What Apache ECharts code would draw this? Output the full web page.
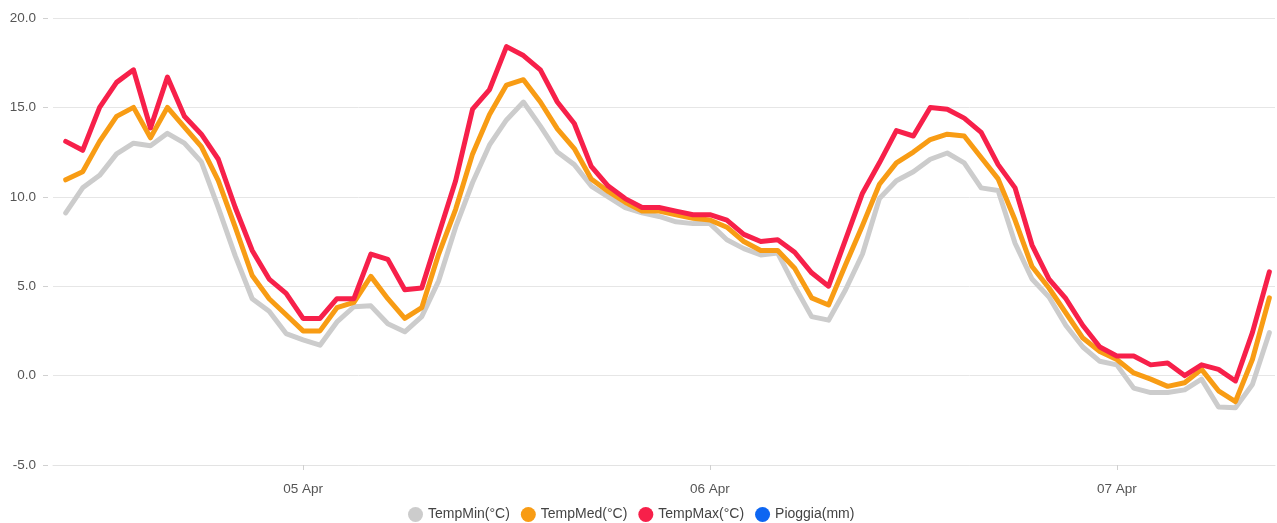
<!DOCTYPE html>
<html>
<head>
<meta charset="utf-8">
<script src="https://cdn.jsdelivr.net/npm/echarts@6/dist/echarts.min.js"></script>
<style>
html,body{margin:0;padding:0;background:#fff;}
#chart{width:1277px;height:523px;}
</style>
</head>
<body>
<div id="chart"></div>
<script>
// Hourly readings starting 04 Apr 10:00
const startTime = [2025, 3, 4, 10, 0];
const seriesNames = ['TempMin(°C)', 'TempMed(°C)', 'TempMax(°C)', 'Pioggia(mm)'];
const tempMin = [9.1,10.5,11.2,12.4,13.0,12.85,13.55,13.0,11.95,9.4,6.7,4.3,3.6,2.35,2.0,1.7,3.0,3.85,3.9,2.9,2.45,3.3,5.3,8.3,10.8,12.9,14.3,15.3,13.95,12.5,11.8,10.6,10.0,9.4,9.1,8.9,8.6,8.5,8.5,7.6,7.1,6.75,6.85,5.0,3.3,3.1,4.8,6.8,9.9,10.9,11.4,12.1,12.45,11.9,10.5,10.35,7.4,5.4,4.4,2.8,1.6,0.8,0.6,-0.7,-0.95,-0.95,-0.8,-0.2,-1.75,-1.8,-0.5,2.4];
const tempMed = [10.95,11.4,13.1,14.5,15.0,13.3,15.0,13.9,12.8,10.9,8.3,5.6,4.3,3.4,2.5,2.5,3.8,4.1,5.55,4.3,3.2,3.8,6.8,9.3,12.4,14.6,16.25,16.55,15.3,13.8,12.7,11.0,10.3,9.7,9.2,9.2,9.0,8.8,8.7,8.3,7.5,7.0,7.0,6.0,4.35,3.95,6.2,8.4,10.7,11.9,12.5,13.2,13.5,13.4,12.2,11.0,8.7,6.1,4.9,3.5,2.1,1.35,0.9,0.15,-0.2,-0.6,-0.4,0.35,-0.85,-1.45,0.9,4.35];
const tempMax = [13.1,12.6,15.0,16.4,17.1,13.85,16.7,14.5,13.5,12.1,9.4,7.0,5.4,4.6,3.2,3.2,4.3,4.3,6.8,6.5,4.8,4.9,7.9,10.9,14.9,16.0,18.4,17.9,17.1,15.3,14.1,11.7,10.6,9.9,9.4,9.4,9.2,9.0,9.0,8.7,7.9,7.5,7.6,6.9,5.75,5.0,7.6,10.2,11.9,13.7,13.4,15.0,14.9,14.4,13.6,11.8,10.5,7.3,5.4,4.3,2.8,1.6,1.1,1.1,0.6,0.7,0.0,0.6,0.35,-0.3,2.4,5.8];
const pioggia = [];
const yTicks = [-5, 0, 5, 10, 15, 20];

const t0 = new Date(startTime[0], startTime[1], startTime[2], startTime[3], startTime[4]).getTime();
const HOUR = 3600 * 1000;
function pairs(arr) { return arr.map((v, i) => [t0 + i * HOUR, v]); }

const MONTHS = ['Jan','Feb','Mar','Apr','May','Jun','Jul','Aug','Sep','Oct','Nov','Dec'];
const xMin = new Date(2025, 3, 4, 9, 15).getTime();
const xMax = new Date(2025, 3, 7, 9, 20).getTime();

const font = '"Liberation Sans", Arial, sans-serif';
const chart = echarts.init(document.getElementById('chart'), null, {renderer: 'canvas'});
const lineSeries = (name, data, color, z) => ({
  name, type: 'line', data: pairs(data), showSymbol: false, symbol: 'none',
  lineStyle: {width: 5, color, cap: 'round', join: 'round'}, itemStyle: {color}, z, animation: false
});
chart.setOption({
  animation: false,
  textStyle: {fontFamily: font},
  grid: {left: 53, right: 2, top: 18, bottom: 58},
  legend: {
    top: 507, left: 408, icon: 'circle', itemWidth: 15, itemHeight: 15, itemGap: 11,
    padding: 0,
    textStyle: {fontSize: 14, color: '#444', fontFamily: font},
    data: seriesNames
  },
  xAxis: {
    type: 'time', min: xMin, max: xMax,
    minInterval: 24 * HOUR, maxInterval: 24 * HOUR,
    axisLine: {show: true, onZero: false, lineStyle: {color: '#e3e3e3', width: 1}},
    axisTick: {show: true, length: 5, lineStyle: {color: '#d0d0d0'}},
    splitLine: {show: false},
    axisLabel: {
      color: '#555', fontSize: 13.5, margin: 17, showMinLabel: false, showMaxLabel: false,
      formatter: function (val) {
        const d = new Date(val);
        return String(d.getDate()).padStart(2, '0') + ' ' + MONTHS[d.getMonth()];
      }
    }
  },
  yAxis: {
    type: 'value', min: yTicks[0], max: yTicks[yTicks.length - 1], interval: 5,
    offset: 5,
    axisLine: {show: false},
    axisTick: {show: true, length: 5, lineStyle: {color: '#d0d0d0'}},
    splitLine: {show: true, lineStyle: {color: '#e6e6e6', width: 1}},
    axisLabel: {color: '#555', fontSize: 13.5, margin: 12, formatter: v => v.toFixed(1)}
  },
  series: [
    lineSeries(seriesNames[0], tempMin, '#cccccc', 2),
    lineSeries(seriesNames[1], tempMed, '#f89c14', 3),
    lineSeries(seriesNames[2], tempMax, '#f7204a', 4),
    {name: seriesNames[3], type: 'line', data: pioggia, showSymbol: false, itemStyle: {color: '#0d66f2'}, lineStyle: {color: '#0d66f2'}}
  ]
});
</script>
</body>
</html>
